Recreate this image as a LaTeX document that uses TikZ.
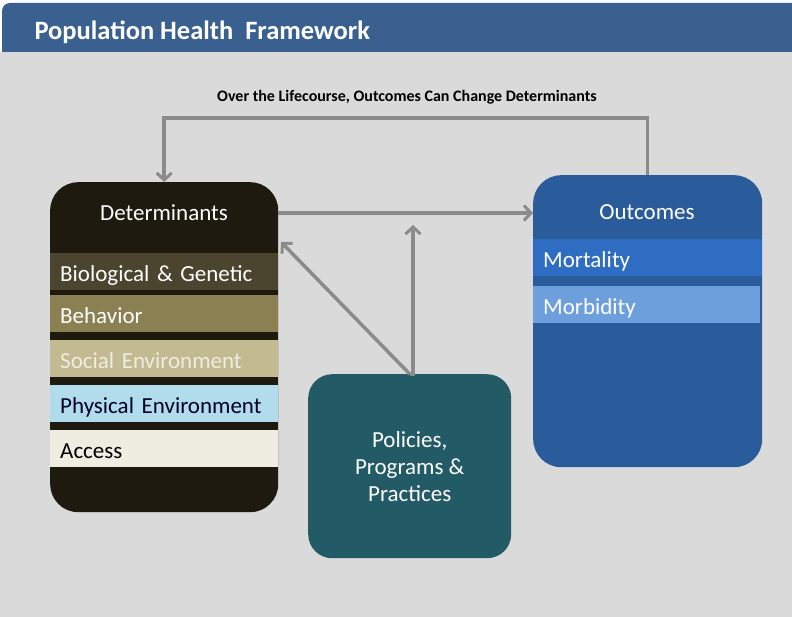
\documentclass[tikz,border=0pt]{standalone}
\usepackage{fontspec}
\setmainfont{Carlito}
\usetikzlibrary{arrows.meta}

\definecolor{barblue}{HTML}{39608F}
\definecolor{backgray}{HTML}{DADADA}
\definecolor{detdark}{HTML}{1E1A10}
\definecolor{biocol}{HTML}{4B4530}
\definecolor{behavcol}{HTML}{8B8052}
\definecolor{socialcol}{HTML}{C2BA90}
\definecolor{physcol}{HTML}{B1DCEB}
\definecolor{accesscol}{HTML}{EFECE2}
\definecolor{outcblue}{HTML}{2A5B9B}
\definecolor{mortcol}{HTML}{2F6DC2}
\definecolor{morbcol}{HTML}{6D9FDC}
\definecolor{polcol}{HTML}{225A66}
\definecolor{arrowgray}{HTML}{8B8B8B}

\begin{document}
\begin{tikzpicture}
	[
	x = {(1pt, 0pt)},
	y = {(0pt, -1pt)},
	box/.style = {rounded corners = 28pt, inner sep = 0pt, anchor = north west},
	boxtitle/.style = {text = white, font = \fontsize{23}{27}\selectfont},
	band/.style = {anchor = north west, inner xsep = 10pt, inner ysep = 0pt, text width = 208pt, text height = 19pt, text depth = 0pt, minimum height = 37pt, align = left, font = \fontsize{23}{27}\selectfont},
	arr/.style = {draw = arrowgray, line width = 3.5pt, -{Straight Barb[length = 7pt, width = 15pt, line width = 3pt]}}]
	
	\useasboundingbox (0,0) rectangle (792,617);
	
	%% Background and title bar
	
	\fill[backgray] (0,52) rectangle (792,617);
	\fill[barblue] (2,52) [rounded corners = 8pt] -- (2,3) [sharp corners] -- (792,3) -- (792,52) -- cycle;
	\node[anchor = west, text = white, font = \bfseries\fontsize{26.5}{30}\selectfont] (title) at (31,32) {Population Health\ \ Framework};
	\node[font = \bfseries\fontsize{16}{18}\selectfont] (lifecourse) at (407,97) {Over the Lifecourse, Outcomes Can Change Determinants};
	
	%% Boxes
	
	\node[box, fill = detdark, minimum width = 228pt, minimum height = 330pt] (det) at (50,182) {};
	\node[box, fill = outcblue, minimum width = 229pt, minimum height = 292pt] (outc) at (533,175) {};
	\node[box, fill = polcol, minimum width = 203pt, minimum height = 184pt, rounded corners = 24pt, text = white, align = center, font = \fontsize{23}{27}\selectfont] (pol) at (308,374) {Policies,\\Programs \&\\Practices};
	
	\node[boxtitle] (dettitle) at (164,213) {Determinants};
	\node[boxtitle] (outctitle) at (647,212) {Outcomes};
	
	%% Bands
	
	\node[band, fill = biocol, text = white] (bio) at (50,253) {Biological \& Genetic};
	\node[band, fill = behavcol, text = white] (behav) at (50,295) {Behavior};
	\node[band, fill = socialcol, text = accesscol] (social) at (50,340) {Social Environment};
	\node[band, fill = physcol, text = black!85!blue] (phys) at (50,385) {Physical Environment};
	\node[band, fill = accesscol, text = black] (access) at (50,430) {Access};
	
	\node[band, fill = mortcol, text = white, text width = 209pt] (mort) at (533,239) {Mortality};
	\node[band, fill = morbcol, text = white, text width = 207pt] (morb) at (533,286) {Morbidity};
	
	%% Arrows
	
	\coordinate (looptop) at (400,118);
	\coordinate (join) at (413,225);
	\coordinate (detin) at (281,242);
	
	\draw[arr] (outc.north) |- (looptop) -| (det.north);
	\draw[arr] (dettitle -| det.east) -- (dettitle -| outc.west);
	\draw[arr] (pol.north) -- (pol.north -| join) -- (join);
	\draw[arr] (pol.north) -- (detin);
\end{tikzpicture}
\end{document}
